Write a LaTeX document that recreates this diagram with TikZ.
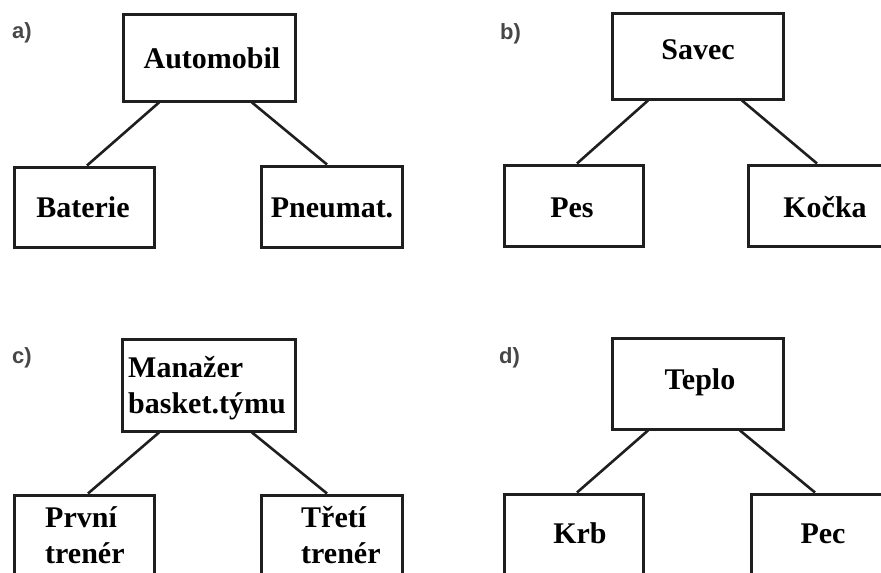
\documentclass[tikz,border=0pt]{standalone}
\usepackage{fontspec}
\setmainfont{Liberation Serif}
\newfontfamily\labelfont{Liberation Sans}
\begin{document}
\begin{tikzpicture}[x=1pt,y=-1pt,
  box/.style={draw=black!88, line width=3pt, rectangle, inner sep=0pt},
  word/.style={font=\fontsize{30}{36}\selectfont\bfseries, inner sep=0pt, anchor=base},
  lines/.style={word, align=left, anchor=base west},
  tag/.style={font=\labelfont\fontsize{22}{24}\selectfont\bfseries, text=black!72, inner sep=0pt, anchor=base west},
  link/.style={draw=black!88, line width=2.6pt}]
\useasboundingbox (0,0) rectangle (881,573);
\clip (0,0) rectangle (881,573);

% a) Automobil
\node[tag] (la) at (12,38) {a)};
\node[box, minimum width=172pt, minimum height=87pt] (aut) at (209,57.5) {};
\node[box, minimum width=140pt, minimum height=80pt] (bat) at (84,207) {};
\node[box, minimum width=141pt, minimum height=81pt] (pne) at (331.5,206.5) {};
\node[word] (autT) at (212,68) {Automobil};
\node[word] (batT) at (83,217) {Baterie};
\node[word] (pneT) at (332,217) {Pneumat.};
\draw[link] ([xshift=-50pt]aut.south) -- ([xshift=3pt]bat.north);
\draw[link] ([xshift=43pt]aut.south) -- ([xshift=-4.5pt]pne.north);

% b) Savec
\node[tag] (lb) at (500,39) {b)};
\node[box, minimum width=171pt, minimum height=86pt] (sav) at (697.5,56) {};
\node[box, minimum width=139pt, minimum height=81pt] (pes) at (573.5,205.5) {};
\node[box, minimum width=141pt, minimum height=81pt] (koc) at (818.5,205.5) {};
\node[word] (savT) at (698,59) {Savec};
\node[word] (pesT) at (572,217) {Pes};
\node[word] (kocT) at (825,217) {Kočka};
\draw[link] ([xshift=-49.5pt]sav.south) -- ([xshift=3.5pt]pes.north);
\draw[link] ([xshift=44.5pt]sav.south) -- ([xshift=-1.5pt]koc.north);

% c) Manažer basketbalového týmu (multi-line text sits on its last baseline)
\node[tag] (lc) at (12,363) {c)};
\node[box, minimum width=173pt, minimum height=92pt] (man) at (208.5,385) {};
\node[box, minimum width=140pt, minimum height=84pt] (prv) at (84,537) {};
\node[box, minimum width=141pt, minimum height=84pt] (tre) at (331.5,537) {};
\node[lines] (manT) at (128,413) {Manažer\\basket.týmu};
\node[lines] (prvT) at (45,563) {První\\trenér};
\node[lines] (treT) at (301,563) {Třetí\\trenér};
\draw[link] ([xshift=-49.5pt]man.south) -- ([xshift=4pt]prv.north);
\draw[link] ([xshift=43.5pt]man.south) -- ([xshift=-4.5pt]tre.north);

% d) Teplo
\node[tag] (ld) at (499,363) {d)};
\node[box, minimum width=171pt, minimum height=91pt] (tep) at (697.5,383.5) {};
\node[box, minimum width=139pt, minimum height=84pt] (krb) at (573.5,536) {};
\node[box, minimum width=141pt, minimum height=84pt] (pec) at (821.5,536) {};
\node[word] (tepT) at (700,389) {Teplo};
\node[word] (krbT) at (580,543) {Krb};
\node[word] (pecT) at (823,543) {Pec};
\draw[link] ([xshift=-49.5pt]tep.south) -- ([xshift=3.5pt]krb.north);
\draw[link] ([xshift=42.5pt]tep.south) -- ([xshift=-6.5pt]pec.north);
\end{tikzpicture}
\end{document}
